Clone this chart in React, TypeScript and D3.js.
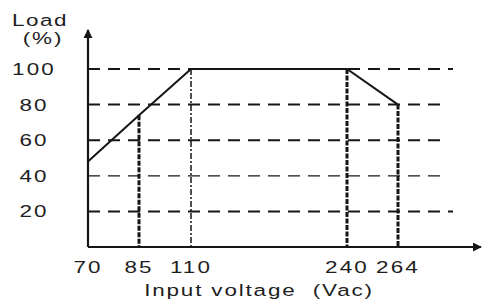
import React from 'react';
import * as d3 from 'd3';

// voltages shown on the x axis
const voltageTicks = [70, 85, 110, 240, 264];
// load gridlines
const loadTicks = [20, 40, 60, 80, 100];
// derating curve
const curveVoltage = [70, 85, 110, 240, 264];
const curveLoad = [48, 74, 100, 100, 80];

const W = 483;
const H = 299;
const ink = '#161616';
const font = '"Liberation Sans", Arial, sans-serif';

// the original uses a wide font, so stretch the text horizontally
const Label = ({ x, y, text, spacing = 1.5 }: { x: number; y: number; text: string; spacing?: number }) => (
  <text transform={`translate(${x},${y}) scale(1.32,1)`} textAnchor="middle" fontFamily={font}
    fontSize={17} letterSpacing={spacing} fill="#1e1e1e" style={{ whiteSpace: 'pre' }}>{text}</text>
);

const App = () => {
  const x0 = 88;
  const y0 = 247;

  // the x axis is not to scale in the original, so piecewise linear
  const x = d3.scaleLinear()
    .domain(voltageTicks)
    .range([x0, x0 + 51, x0 + 103, x0 + 259, x0 + 310]);
  const y = d3.scaleLinear().domain([0, 100]).range([y0, 69]);

  const pts: [number, number][] = curveVoltage.map((v, i) => [v, curveLoad[i]]);
  const line = d3.line<[number, number]>()
    .x(d => x(d[0]))
    .y(d => y(d[1]));

  const gridEnd = (t: number) => (t === 100 || t === 20 ? 453 : 448);

  return (
    <svg width={W} height={H} style={{ position: 'absolute', left: 0, top: 0, background: '#fff' }}>
      <defs>
        <marker id="arr" viewBox="0 0 10 10" refX="9" refY="5" markerWidth="9" markerHeight="9"
          markerUnits="userSpaceOnUse" orient="auto">
          <path d="M0,0 L10,5 L0,10 z" fill={ink} />
        </marker>
      </defs>

      {/* horizontal dashed gridlines */}
      {loadTicks.map(t => (
        <line key={t} x1={x0} x2={gridEnd(t)} y1={y(t)} y2={y(t)}
          stroke={ink} strokeWidth={t === 40 ? 1.2 : 2} strokeDasharray="12 8" />
      ))}

      {/* verticals from the curve down to the axis */}
      {curveVoltage.slice(1).map((v, i) => (
        <line key={v} x1={x(v)} x2={x(v)} y1={y(curveLoad[i + 1])} y2={y0}
          stroke={ink} strokeWidth={v === 110 ? 1.5 : 3}
          strokeDasharray={v === 110 ? '6 2 2 2' : '5 1.5'} />
      ))}

      {/* curve */}
      <path d={line(pts) || ''} fill="none" stroke={ink} strokeWidth={2} />

      {/* axes */}
      <line x1={x0} x2={x0} y1={y0} y2={30} stroke={ink} strokeWidth={2.2} markerEnd="url(#arr)" />
      <line x1={x0} x2={481} y1={y0} y2={y0} stroke={ink} strokeWidth={2} markerEnd="url(#arr)" />

      {/* y labels */}
      {loadTicks.map(t => (
        <Label key={t} x={34} y={y(t) + 6} text={String(t)} spacing={1.6} />
      ))}
      <Label x={40} y={26} text="Load" spacing={1.2} />
      <Label x={43} y={44} text="(%)" spacing={1.4} />

      {/* x labels */}
      {voltageTicks.map(v => (
        <Label key={v} x={x(v)} y={273} text={String(v)} spacing={1.6} />
      ))}
      <Label x={259} y={296} text="Input voltage  (Vac)" spacing={1.4} />
    </svg>
  );
};

export default App;
